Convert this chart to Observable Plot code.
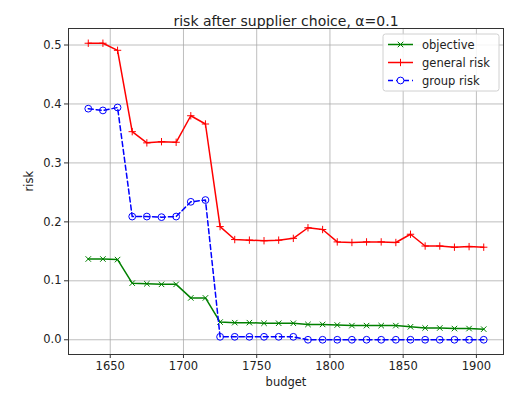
<!DOCTYPE html>
<html><head><meta charset="utf-8">
<script src="https://cdn.jsdelivr.net/npm/d3@7"></script>
<script src="https://cdn.jsdelivr.net/npm/@observablehq/plot@0.6"></script>
<style>html,body{margin:0;padding:0;background:#fff;}</style>
</head><body><div id="chart"></div>
<script>
const budget = [1635,1645,1655,1665,1675,1685,1695,1705,1715,1725,1735,1745,1755,1765,1775,1785,1795,1805,1815,1825,1835,1845,1855,1865,1875,1885,1895,1905];
const objective = [0.137,0.137,0.136,0.096,0.095,0.094,0.094,0.071,0.071,0.030,0.029,0.029,0.028,0.028,0.028,0.026,0.026,0.025,0.024,0.024,0.024,0.024,0.022,0.020,0.020,0.019,0.019,0.018];
const generalRisk = [0.503,0.503,0.491,0.353,0.334,0.336,0.335,0.380,0.366,0.192,0.170,0.169,0.168,0.169,0.172,0.190,0.187,0.166,0.165,0.166,0.166,0.165,0.179,0.159,0.159,0.157,0.158,0.157];
const groupRisk = [0.392,0.389,0.394,0.209,0.209,0.208,0.209,0.234,0.237,0.005,0.005,0.005,0.005,0.005,0.005,0,0,0,0,0,0,0,0,0,0,0,0,0];
const seriesNames = ["objective","general risk","group risk"];
const seriesColors = ["green","red","blue"];
const xTicks = [1650,1700,1750,1800,1850,1900];
const yTicks = [0,0.1,0.2,0.3,0.4,0.5];
const titleText = "risk after supplier choice, α=0.1";
const xLabel = "budget";
const yLabel = "risk";

const valuesBySeries = [objective, generalRisk, groupRisk];
const rows = budget.flatMap((b,i)=>seriesNames.map((s,k)=>({budget:b, value:valuesBySeries[k][i], series:s})));
const sub = s => rows.filter(d=>d.series===s);

const font = "DejaVu Sans, sans-serif";
const fs = 11.5;
const plot = Plot.plot({
  width:512, height:393,
  marginLeft:68, marginRight:9, marginTop:28, marginBottom:39,
  style:{fontFamily:font, fontSize:fs+"px", color:"#222", background:"#fff", overflow:"visible"},
  x:{domain:[1621.5,1918.5]},
  y:{domain:[-0.025,0.528]},
  color:{domain:seriesNames, range:seriesColors},
  marks:[
    Plot.gridX(xTicks,{stroke:"#a8a8a8", strokeOpacity:0.75, strokeWidth:1}),
    Plot.gridY(yTicks,{stroke:"#a8a8a8", strokeOpacity:0.75, strokeWidth:1}),
    Plot.axisX(xTicks,{tickSize:4, tickPadding:3, tickFormat:d=>String(d), label:null, stroke:"#333", fontSize:fs}),
    Plot.axisY(yTicks,{tickSize:4, tickPadding:3, tickFormat:d3.format(".1f"), label:null, stroke:"#333", fontSize:fs}),
    Plot.frame({stroke:"#333", strokeWidth:1}),
    Plot.line(sub("objective"),{x:"budget", y:"value", stroke:"series", strokeWidth:1.5}),
    Plot.dot(sub("objective"),{x:"budget", y:"value", stroke:"series", symbol:"times", r:2.6, strokeWidth:1}),
    Plot.line(sub("general risk"),{x:"budget", y:"value", stroke:"series", strokeWidth:1.5}),
    Plot.dot(sub("general risk"),{x:"budget", y:"value", stroke:"series", symbol:"plus", r:2.5, strokeWidth:1}),
    Plot.line(sub("group risk"),{x:"budget", y:"value", stroke:"series", strokeWidth:1.5, strokeDasharray:"5,3"}),
    Plot.dot(sub("group risk"),{x:"budget", y:"value", stroke:"series", symbol:"circle", r:3.4, strokeWidth:1, fill:"none"}),
    Plot.text([titleText],{frameAnchor:"top", dy:-12, fontSize:14, fill:"#222"}),
    Plot.text([xLabel],{frameAnchor:"bottom", dy:31, fontSize:fs, fill:"#222"}),
    Plot.text([yLabel],{frameAnchor:"left", dx:-39, rotate:-90, fontSize:fs, fill:"#222"})
  ]
});
document.getElementById("chart").appendChild(plot);

// legend (top-right inside the frame)
const svg = d3.select(plot);
const lg = svg.append("g").attr("transform","translate(383,34)").style("font-family",font).style("font-size",fs+"px").attr("text-anchor","start");
lg.append("rect").attr("width",116).attr("height",57).attr("rx",2.5).attr("fill","rgba(255,255,255,0.85)").attr("stroke","#d0d0d0");
seriesNames.forEach((s,k)=>{
  const y = 10.5 + k*18;
  const c = seriesColors[k];
  lg.append("line").attr("x1",5).attr("x2",30).attr("y1",y).attr("y2",y).attr("stroke",c).attr("stroke-width",1.5).attr("stroke-dasharray",k===2?"5,3":null);
  const sym = d3.symbol(k===0?d3.symbolTimes:(k===1?d3.symbolPlus:d3.symbolCircle), Math.PI*([2.6,2.5,3.4][k])**2)();
  lg.append("path").attr("d",sym).attr("transform",`translate(17.5,${y})`).attr("fill",k===2?"#fff":"none").attr("stroke",c).attr("stroke-width",1);
  lg.append("text").attr("x",39).attr("y",y).attr("dy","0.35em").attr("fill","#222").attr("text-anchor","start").text(s);
});
</script>
</body></html>
